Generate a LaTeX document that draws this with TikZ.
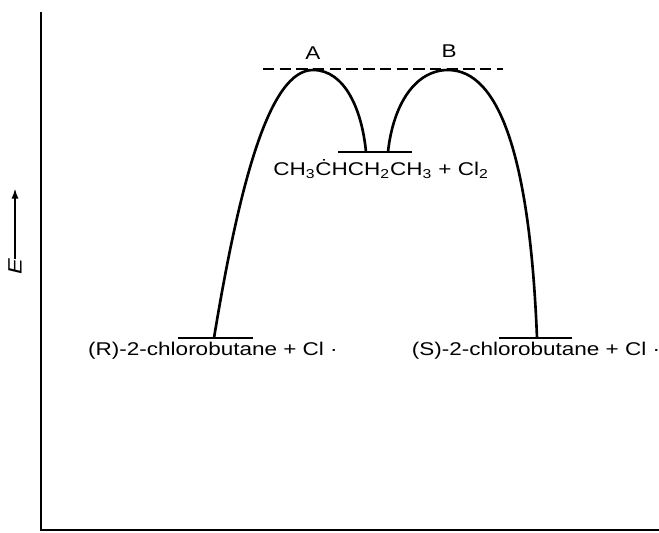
\documentclass[tikz,border=0pt]{standalone}
\usepackage{fontspec}
\setmainfont{Liberation Sans}[FakeStretch=1.22]
\usetikzlibrary{arrows.meta, positioning}

\begin{document}
\begin{tikzpicture}[x=0.02cm, y=-0.02cm,
    axis/.style={line width=1.3pt},
    level/.style={line width=1.4pt},
    curve/.style={line width=1.5pt},
    lbl/.style={font=\fontsize{10.5}{12}\selectfont, inner sep=0pt, anchor=base}]
  \useasboundingbox (0,0) rectangle (659,533);
  % axes
  \coordinate (top) at (41,12);
  \coordinate (orig) at (41,530);
  \coordinate (right) at (659,530);
  \draw[axis] (top) -- (orig) -- (right);
  \node[rotate=90, font=\fontsize{11}{12}\selectfont\itshape, inner sep=0pt] (E) at (15,267) {E};
  \coordinate (Etip) at (15,188);
  \draw[line width=1.2pt, -{Latex[length=6pt,width=4pt]}] (E.east) -- (Etip);

  % energy levels
  \coordinate (R1) at (178,338); \coordinate (R2) at (253,338);
  \coordinate (I1) at (338,152); \coordinate (I2) at (412,152);
  \coordinate (S1) at (499,338); \coordinate (S2) at (572,338);
  \foreach \a/\b in {R1/R2, I1/I2, S1/S2}
    \draw[level] (\a) -- (\b);

  % transition states
  \coordinate (tsA) at (313,70);
  \coordinate (tsB) at (448,70);
  \coordinate (d1) at (263,69); \coordinate (d2) at (503,69);
  \draw[line width=1.3pt, dash pattern=on 6.5pt off 3pt] (d1) -- (d2);
  \node[lbl] (A) at (313,60) {A};
  \node[lbl] (B) at (449,58) {B};

  % reaction paths
  \coordinate (Rfoot) at (214,338);
  \coordinate (Ifoot1) at (366,152);
  \coordinate (Ifoot2) at (388,152);
  \coordinate (Sfoot) at (537,338);
  \draw[curve] (Rfoot) .. controls (240,180) and (270,70) .. (tsA)
    .. controls (345,70) and (362,110) .. (Ifoot1);
  \draw[curve] (Ifoot2) .. controls (393,105) and (415,70) .. (tsB)
    .. controls (500,70) and (530,160) .. (Sfoot);

  % labels
  \node[lbl] (Rlbl) at (213,356) {(R)-2-chlorobutane + Cl ·};
  \node[lbl] (Ilbl) at (381,176) {CH\textsubscript{3}ĊHCH\textsubscript{2}CH\textsubscript{3} + Cl\textsubscript{2}};
  \node[lbl] (Slbl) at (536,356) {(S)-2-chlorobutane + Cl ·};
\end{tikzpicture}
\end{document}
